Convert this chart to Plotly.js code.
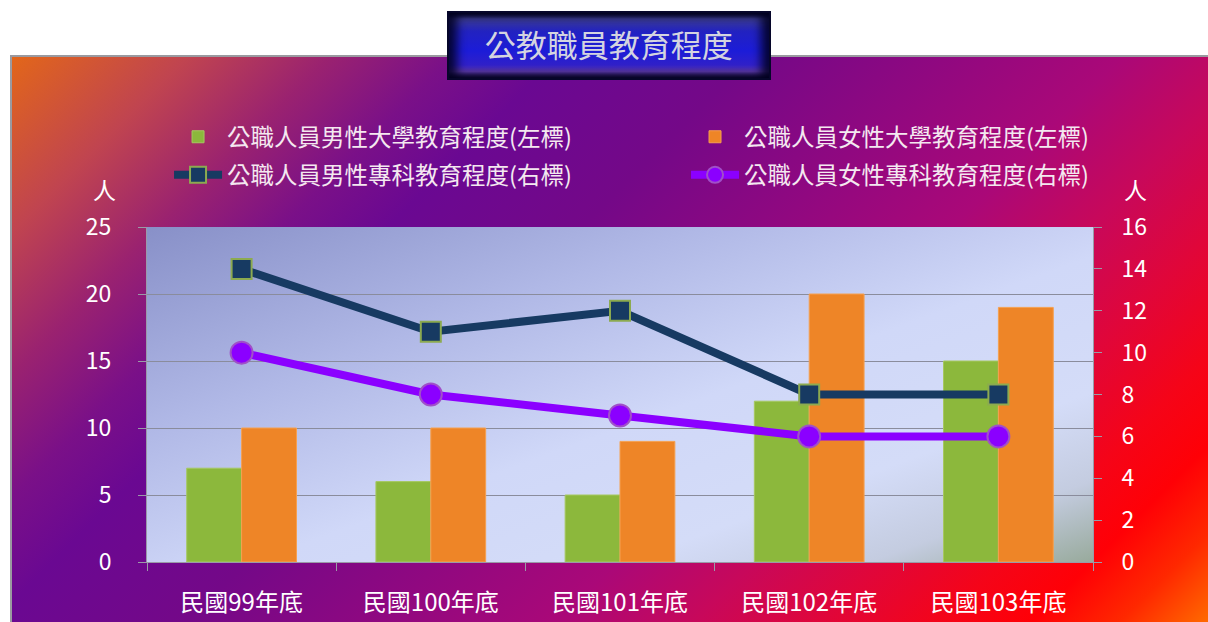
<!DOCTYPE html>
<html>
<head>
<meta charset="utf-8">
<script src="https://cdn.plot.ly/plotly-3.0.1.min.js"></script>
<style>
  html, body { margin:0; padding:0; background:#ffffff; }
  #wrap { position:relative; width:1208px; height:622px; overflow:hidden; background:#ffffff; }
  #panel { position:absolute; left:10px; top:55px; width:1198px; height:567px;
    border-top:2px solid #9a9aa0; border-left:2px solid #9a9aa0; box-sizing:border-box;
    background: linear-gradient(135deg, #e2661a 0%, #c04450 10%, #9a2270 18%, #7a1088 25%, #6a0892 31%, #740888 42%, #900880 53%, #aa0878 63%, #c8085a 71%, #e0063a 78%, #f50418 85%, #ff0006 90%, #ff2800 95%, #ff6a00 100%); }
  #plotbg { position:absolute; left:147px; top:227px; width:946px; height:335px;
    background: linear-gradient(160deg, #8890c8 0%, #b0b8e6 30%, #d0d8f8 55%, #d4dcf8 75%, #c4cce0 88%, #98aa9c 100%); }
  #titlebox { position:absolute; left:447px; top:11px; width:324px; height:69px; box-sizing:border-box;
    border:2px solid #06062a;
    background: linear-gradient(to bottom, #08082a 0%, #3a3a90 9%, #2222c0 28%, #1c1cd8 58%, #3020c8 80%, #5a38a8 90%, #140c3a 100%);
    box-shadow: inset 8px 0 10px rgba(0,0,30,0.85), inset -8px 0 10px rgba(0,0,30,0.85); }
  #chart { position:absolute; left:0; top:0; width:1208px; height:622px; }
</style>
</head>
<body>
<div id="wrap">
  <div id="panel"></div>
  <div id="plotbg"></div>
  <div id="titlebox"></div>
  <div id="chart"></div>
</div>
<script>
const categories = ['民國99年底', '民國100年底', '民國101年底', '民國102年底', '民國103年底'];
const maleUniv = [7, 6, 5, 12, 15];
const femaleUniv = [10, 10, 9, 20, 19];
const maleCollege = [14, 11, 12, 8, 8];
const femaleCollege = [10, 8, 7, 6, 6];
const seriesNames = [
  '公職人員男性大學教育程度(左標)',
  '公職人員女性大學教育程度(左標)',
  '公職人員男性專科教育程度(右標)',
  '公職人員女性專科教育程度(右標)'
];
const chartTitle = '公教職員教育程度';
const unitLabel = '人';

const FONT = '"Noto Sans CJK TC", "Noto Sans", sans-serif';

const traces = [
  { type:'bar', x:categories, y:maleUniv, name:seriesNames[0], yaxis:'y', legend:'legend',
    marker:{ color:'#8cb83c', line:{ color:'#a6c860', width:1 } } },
  { type:'bar', x:categories, y:femaleUniv, name:seriesNames[1], yaxis:'y', legend:'legend2',
    marker:{ color:'#ee8527', line:{ color:'#f5a050', width:1 } } },
  { type:'scatter', mode:'lines+markers', x:categories, y:maleCollege, name:seriesNames[2], yaxis:'y2', legend:'legend3',
    line:{ color:'#173a62', width:8 },
    marker:{ symbol:'square', size:20, color:'#173a62', line:{ color:'#8caa50', width:2 } } },
  { type:'scatter', mode:'lines+markers', x:categories, y:femaleCollege, name:seriesNames[3], yaxis:'y2', legend:'legend4',
    line:{ color:'#8b00ff', width:8 },
    marker:{ symbol:'circle', size:22, color:'#8b00ff', line:{ color:'#a050c8', width:2 } } }
];

function leg(x, y) {
  return { orientation:'v', x:x, xanchor:'left', y:y, yanchor:'middle', itemwidth:48,
    font:{ family:FONT, size:23.5, color:'#f4e8f0' }, bgcolor:'rgba(0,0,0,0)', borderwidth:0 };
}

const layout = {
  width:1208, height:622,
  margin:{ l:147, r:115, t:227, b:60 },
  paper_bgcolor:'rgba(0,0,0,0)',
  plot_bgcolor:'rgba(0,0,0,0)',
  font:{ family:FONT, color:'#ffffff', size:22 },
  title:{ text:chartTitle, x:0.504, xref:'container', y:0.926, yref:'container', xanchor:'center', yanchor:'middle',
    font:{ family:FONT, size:31, color:'#d4d4e0' } },
  barmode:'group', bargap:0.42, bargroupgap:0,
  showlegend:true,
  legend: leg(0.0233, 1.2687),
  legend2: leg(0.5698, 1.2687),
  legend3: leg(0.0233, 1.1552),
  legend4: leg(0.5698, 1.1552),
  xaxis:{ type:'category', showgrid:false, showline:true, linecolor:'#9a9aa8', linewidth:1,
    ticks:'outside', tickson:'boundaries', ticklen:8, tickcolor:'#9a9aa8',
    ticklabelstandoff:19, tickfont:{ family:FONT, size:24, color:'#ffffff' } },
  yaxis:{ range:[0,25], dtick:5, showgrid:true, gridcolor:'#8a8c9c', gridwidth:1,
    showline:true, linecolor:'#9a9aa8', ticks:'outside', ticklen:8, tickcolor:'#9a9aa8',
    zeroline:false, ticklabelstandoff:22, tickfont:{ family:FONT, size:23, color:'#ffffff' } },
  yaxis2:{ range:[0,16], dtick:2, overlaying:'y', side:'right', showgrid:false,
    showline:true, linecolor:'#9a9aa8', ticks:'outside', ticklen:8, tickcolor:'#9a9aa8',
    zeroline:false, ticklabelstandoff:15, tickfont:{ family:FONT, size:23, color:'#ffffff' } },
  annotations:[
    { text:unitLabel, xref:'paper', yref:'paper', x:-0.0444, y:1.113, xanchor:'center', yanchor:'middle', showarrow:false,
      font:{ family:FONT, size:23, color:'#ffffff' } },
    { text:unitLabel, xref:'paper', yref:'paper', x:1.0444, y:1.113, xanchor:'center', yanchor:'middle', showarrow:false,
      font:{ family:FONT, size:23, color:'#ffffff' } }
  ]
};

Plotly.newPlot('chart', traces, layout, { displayModeBar:false, staticPlot:true });
</script>
</body>
</html>
